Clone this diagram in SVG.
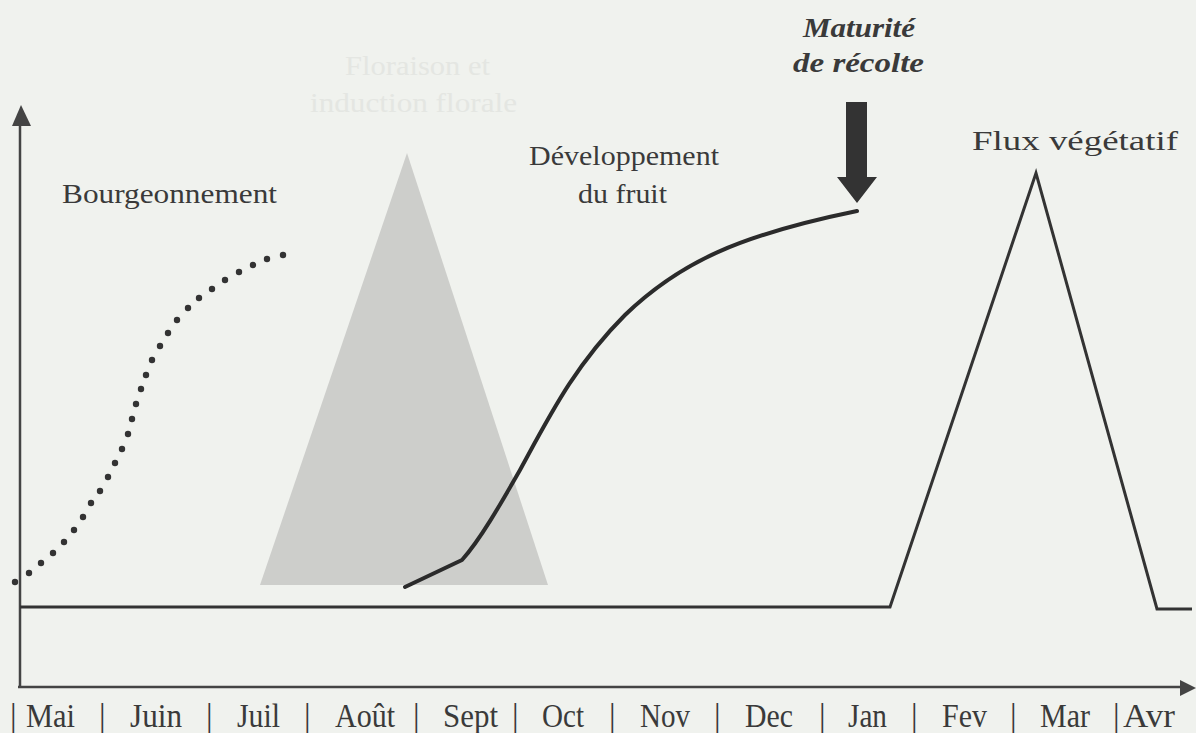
<svg xmlns="http://www.w3.org/2000/svg" width="1196" height="733" viewBox="0 0 1196 733">
  <style>
    .lbl { font-family: "Liberation Serif", "Times New Roman", serif; font-size: 28px; fill: #3a3a3a; }
    .month { font-family: "Liberation Serif", "Times New Roman", serif; font-size: 33px; fill: #3a3a3a; }
    .faint { font-family: "Liberation Serif", "Times New Roman", serif; font-size: 28px; fill: #e4e6e2; }
    .harvest { font-family: "Liberation Serif", "Times New Roman", serif; font-size: 28px; font-weight: bold; font-style: italic; fill: #3a3a3a; }
    .axis { stroke: #444; stroke-width: 2.5; fill: none; }
    .curve { stroke: #2b2b2b; stroke-width: 4; fill: none; stroke-linecap: round; stroke-linejoin: round; }
    .flux { stroke: #333; stroke-width: 3; fill: none; stroke-linejoin: miter; }
    .dot { fill: #333; }
  </style>

  <rect width="1196" height="733" fill="#f0f2ee"/>

  <!-- axes -->
  <g id="axes">
    <line class="axis" x1="20" y1="124" x2="20" y2="687"/>
    <polygon points="21,105 12,126 31,126" fill="#444"/>
    <line class="axis" x1="18" y1="687" x2="1184" y2="687"/>
    <polygon points="1196,688 1180,680 1180,696" fill="#444"/>
  </g>

  <!-- flowering / induction period -->
  <g id="floraison">
    <polygon points="407,153 260,585 548,585" fill="#cdcecb"/>
    <text class="faint" x="345" y="75" textLength="145" lengthAdjust="spacingAndGlyphs">Floraison et</text>
    <text class="faint" x="310" y="112" textLength="207" lengthAdjust="spacingAndGlyphs">induction florale</text>
  </g>

  <!-- budding curve -->
  <g id="bourgeonnement">
    <text class="lbl" x="62" y="203" textLength="215" lengthAdjust="spacingAndGlyphs">Bourgeonnement</text>
    <g class="dot">
      <circle cx="15" cy="582" r="3.2"/>
      <circle cx="29" cy="573" r="3.2"/>
      <circle cx="41" cy="563" r="3.2"/>
      <circle cx="53" cy="553" r="3.2"/>
      <circle cx="64" cy="542" r="3.2"/>
      <circle cx="74" cy="530" r="3.2"/>
      <circle cx="83" cy="517" r="3.2"/>
      <circle cx="91" cy="503" r="3.2"/>
      <circle cx="100" cy="491" r="3.2"/>
      <circle cx="108" cy="477" r="3.2"/>
      <circle cx="115" cy="463" r="3.2"/>
      <circle cx="122" cy="449" r="3.2"/>
      <circle cx="128" cy="434" r="3.2"/>
      <circle cx="132" cy="419" r="3.2"/>
      <circle cx="136" cy="404" r="3.2"/>
      <circle cx="141" cy="389" r="3.2"/>
      <circle cx="146" cy="375" r="3.2"/>
      <circle cx="152" cy="360" r="3.2"/>
      <circle cx="160" cy="346" r="3.2"/>
      <circle cx="168" cy="333" r="3.2"/>
      <circle cx="177" cy="320" r="3.2"/>
      <circle cx="188" cy="308" r="3.2"/>
      <circle cx="199" cy="298" r="3.2"/>
      <circle cx="212" cy="289" r="3.2"/>
      <circle cx="225" cy="280" r="3.2"/>
      <circle cx="239" cy="272" r="3.2"/>
      <circle cx="253" cy="265" r="3.2"/>
      <circle cx="267" cy="259" r="3.2"/>
      <circle cx="283" cy="255" r="3.2"/>
    </g>
  </g>

  <!-- fruit development curve -->
  <g id="developpement">
    <text class="lbl" x="529" y="165" textLength="190" lengthAdjust="spacingAndGlyphs">Développement</text>
    <text class="lbl" x="578" y="203" textLength="89" lengthAdjust="spacingAndGlyphs">du fruit</text>
    <path class="curve" d="M405,587 L462,560 C480,540 500,505 520,470 C550,415 575,365 625,315 C680,262 740,235 857,211"/>
  </g>

  <!-- harvest maturity marker -->
  <g id="maturite">
    <text class="harvest" x="803" y="37" textLength="112" lengthAdjust="spacingAndGlyphs">Maturité</text>
    <text class="harvest" x="793" y="72" textLength="131" lengthAdjust="spacingAndGlyphs">de récolte</text>
    <polygon points="846,102 867,102 867,177 877,177 857,203 837,177 846,177" fill="#333"/>
  </g>

  <!-- vegetative flush -->
  <g id="flux">
    <text class="lbl" x="972" y="150" textLength="206" lengthAdjust="spacingAndGlyphs">Flux végétatif</text>
    <polyline class="flux" points="20,607 890,607 1036,173 1157,609 1192,609"/>
  </g>

  <!-- month scale -->
  <g id="mois" class="month">
    <text x="10" y="727">|</text>
    <text x="26" y="727" textLength="49" lengthAdjust="spacingAndGlyphs">Mai</text>
    <text x="99" y="727">|</text>
    <text x="130" y="727" textLength="52" lengthAdjust="spacingAndGlyphs">Juin</text>
    <text x="206" y="727">|</text>
    <text x="237" y="727" textLength="43" lengthAdjust="spacingAndGlyphs">Juil</text>
    <text x="304" y="727">|</text>
    <text x="335" y="727" textLength="60" lengthAdjust="spacingAndGlyphs">Août</text>
    <text x="413" y="727">|</text>
    <text x="443" y="727" textLength="55" lengthAdjust="spacingAndGlyphs">Sept</text>
    <text x="512" y="727">|</text>
    <text x="542" y="727" textLength="42" lengthAdjust="spacingAndGlyphs">Oct</text>
    <text x="609" y="727">|</text>
    <text x="640" y="727" textLength="50" lengthAdjust="spacingAndGlyphs">Nov</text>
    <text x="714" y="727">|</text>
    <text x="745" y="727" textLength="48" lengthAdjust="spacingAndGlyphs">Dec</text>
    <text x="819" y="727">|</text>
    <text x="848" y="727" textLength="39" lengthAdjust="spacingAndGlyphs">Jan</text>
    <text x="911" y="727">|</text>
    <text x="942" y="727" textLength="45" lengthAdjust="spacingAndGlyphs">Fev</text>
    <text x="1010" y="727">|</text>
    <text x="1040" y="727" textLength="50" lengthAdjust="spacingAndGlyphs">Mar</text>
    <text x="1113" y="727">|</text>
    <text x="1123" y="727" textLength="52" lengthAdjust="spacingAndGlyphs">Avr</text>
  </g>
</svg>
